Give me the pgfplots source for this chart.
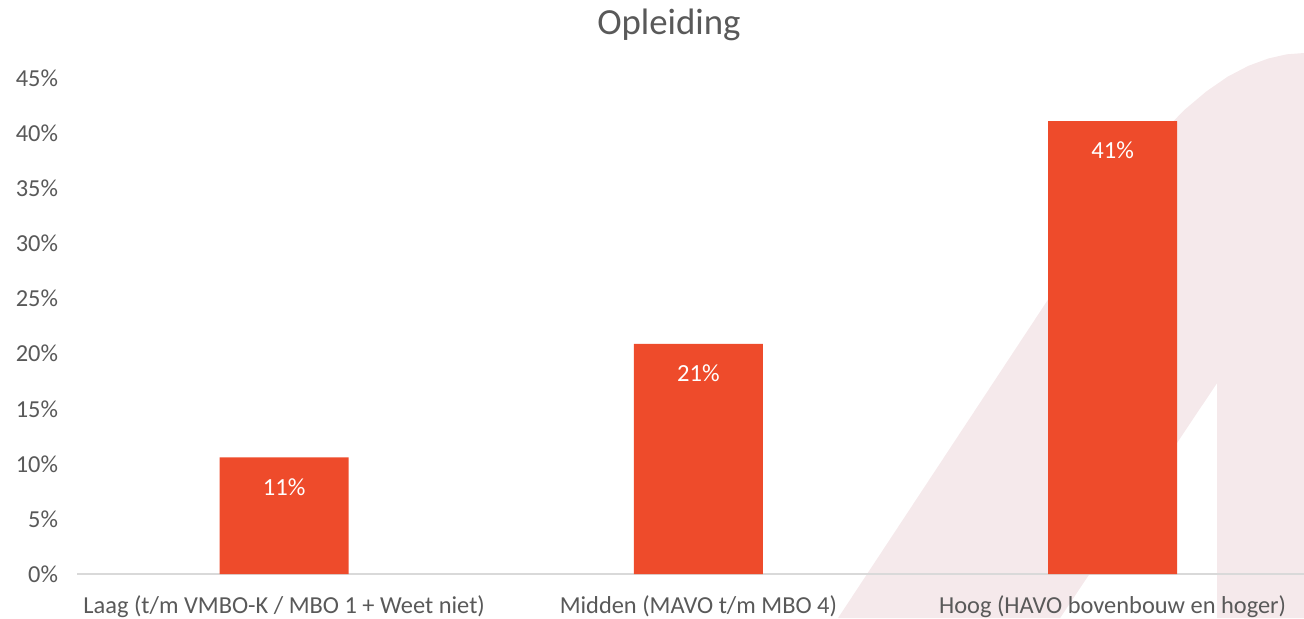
\documentclass[border=0pt]{standalone}
\usepackage{pgfplots}
\pgfplotsset{compat=1.18}
\usepackage{fontspec}
\setmainfont{Carlito}
\definecolor{barc}{HTML}{EE4B2B}
\definecolor{txt}{HTML}{595959}
\definecolor{wm}{HTML}{F5E9EB}
\definecolor{basel}{HTML}{D9D9D9}
\pgfplotsset{common/.style={
  scale only axis,
  width=613.5pt, height=248pt,
  xmin=-0.5, xmax=2.462,
  ymin=0, ymax=45,
  clip=false}}
\begin{document}
\begin{tikzpicture}
\begin{axis}[common, hide axis]
\addplot[fill=wm, draw=none] coordinates {(1.337,-3.99) (2.065,37.5) (2.1185,40.0) (2.173,42.11) (2.2264,43.80) (2.278,45.14) (2.328,46.12) (2.3756,46.78) (2.420,47.16) (2.462,47.28) (2.462,-3.99) (2.252,-3.99) (2.252,17.33) (1.873,-3.99)} -- cycle;
\coordinate (bl) at (axis cs:-0.6859,-3.993);
\coordinate (tr) at (axis cs:2.462,52.09);
\end{axis}
\begin{axis}[
  common,
  axis x line*=bottom,
  axis y line*=left,
  x axis line style={draw=basel, line width=0.8pt},
  y axis line style={draw=none},
  major tick length=0pt,
  xtick={0,1,2},
  xticklabels={Laag (t/m VMBO-K / MBO 1 + Weet niet),Midden (MAVO t/m MBO 4),Hoog (HAVO bovenbouw en hoger)},
  ytick={0,5,10,15,20,25,30,35,40,45},
  yticklabels={0\%,5\%,10\%,15\%,20\%,25\%,30\%,35\%,40\%,45\%},
  ticklabel style={font=\fontsize{12.2}{14}\selectfont, text=txt},
  yticklabel style={xshift=-6pt},
  xticklabel style={yshift=-7pt},
  ybar,
  bar width=64.5pt,
  nodes near coords,
  point meta=explicit symbolic,
  every node near coord/.append style={anchor=north, yshift=-7pt, text=white, font=\fontsize{12.3}{14}\selectfont},
]
\addplot[fill=barc, draw=none] coordinates {(0,10.6) [11\%] (1,20.9) [21\%] (2,41.1) [41\%]};
\node[text=txt, font=\fontsize{18.4}{22}\selectfont] at (axis cs:0.929,49.8) {Opleiding};
\end{axis}
\pgfresetboundingbox
\path[use as bounding box] (bl) rectangle (tr);
\end{tikzpicture}
\end{document}
